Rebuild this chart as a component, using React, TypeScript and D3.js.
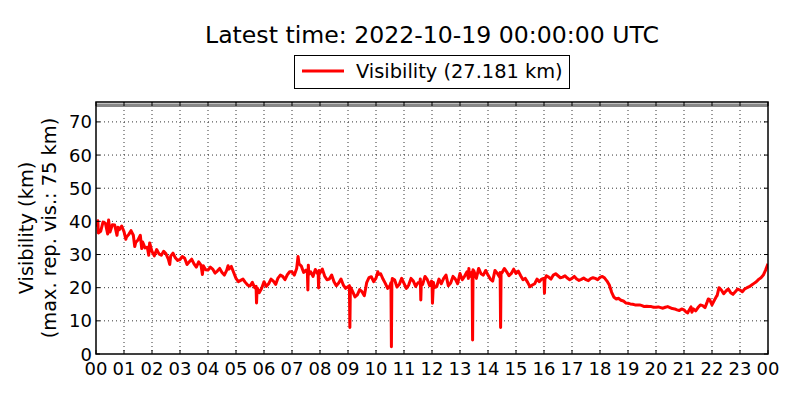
import React from "react";
import * as d3 from "d3";

const TITLE = "Latest time: 2022-10-19 00:00:00 UTC";
const LEGEND_LABEL = "Visibility (27.181 km)";
const Y_LABEL_1 = "Visibility (km)";
const Y_LABEL_2 = "(max. rep. vis.: 75 km)";
const MAX_REP_VIS = 75;

const xTickHours = d3.range(0, 25);
const xTickLabels = xTickHours.map((h) => String(h % 24).padStart(2, "0"));
const yTicks = [0, 10, 20, 30, 40, 50, 60, 70];

// visibility (km) at minute 10*i, 00:00 .. 24:00
const baseValues = [
  38.4, 37.0, 39.5, 36.8, 38.9, 37.5,
  36.9, 36.0, 35.8, 34.4, 33.8, 32.2,
  30.9, 31.5, 29.8, 30.2, 29.5, 29.0,
  28.5, 28.9, 27.8, 27.2, 27.8, 26.6,
  25.3, 25.6, 25.0, 24.6, 25.2, 26.4,
  22.8, 22.2, 21.6, 20.5, 20.0, 18.5,
  21.8, 21.2, 22.0, 22.9, 23.4, 23.9,
  24.8, 25.8, 26.5, 25.3, 24.8, 25.5,
  24.4, 23.5, 22.6, 21.8, 21.4, 20.8,
  20.3, 18.8, 17.8, 18.8, 21.5, 23.3,
  22.9, 24.2, 21.3, 20.6, 22.3, 21.0,
  21.3, 20.8, 22.0, 21.5, 21.0, 22.4,
  21.8, 20.3, 21.2, 23.8, 21.4, 22.6,
  24.3, 23.5, 23.3, 25.0, 25.8, 23.8,
  23.8, 22.0, 24.3, 24.5, 24.8, 24.3,
  24.3, 23.6, 22.8, 20.3, 21.2, 21.8,
  22.8, 23.2, 23.8, 23.6, 23.2, 22.9,
  22.8, 22.6, 22.5, 22.4, 22.7, 22.8,
  23.1, 22.9, 20.8, 17.1, 16.8, 16.0,
  15.3, 15.0, 14.8, 14.6, 14.4, 14.3,
  14.1, 14.0, 14.1, 14.0, 13.6, 13.1,
  13.3, 13.0, 13.6, 14.0, 14.6, 15.8,
  14.8, 17.5, 19.3, 19.0, 18.5, 18.8,
  19.3, 19.6, 20.3, 21.3, 22.5, 23.8,
  27.2,
];

// visibility (km) at minute 10*i + 5
const midValues = [
  36.5, 39.8, 36.2, 39.0, 35.8, 38.6,
  35.2, 37.2, 33.6, 35.8, 32.0, 33.5,
  29.6, 30.2, 31.0, 28.6, 30.4, 28.2,
  29.4, 27.0, 28.6, 26.2, 26.8, 25.4,
  26.2, 24.4, 25.8, 23.8, 25.6, 24.6,
  21.8, 22.6, 20.8, 21.6, 18.8, 19.8,
  20.4, 22.6, 21.0, 23.8, 22.4, 24.8,
  23.8, 27.2, 24.6, 26.8, 23.4, 24.2,
  25.6, 22.4, 23.8, 20.6, 22.6, 19.8,
  19.2, 17.2, 19.4, 17.6, 23.0, 21.8,
  24.0, 22.6, 19.8, 22.8, 20.2, 22.8,
  19.8, 22.8, 20.4, 22.6, 23.4, 20.6,
  20.0, 22.6, 22.8, 20.6, 23.4, 21.2,
  22.4, 24.8, 24.6, 22.8, 24.2, 25.2,
  22.6, 25.2, 23.2, 25.8, 23.6, 25.6,
  25.0, 22.4, 21.6, 20.8, 22.6, 22.6,
  23.6, 22.6, 24.2, 23.0, 23.6, 22.4,
  23.4, 22.2, 22.9, 22.1, 23.0, 22.4,
  23.4, 22.0, 18.6, 16.6, 16.2, 15.4,
  15.1, 14.8, 14.8, 14.3, 14.3, 14.1,
  14.2, 13.8, 14.3, 13.7, 13.3, 13.6,
  12.6, 14.2, 13.0, 14.8, 14.0, 16.4,
  16.2, 20.0, 18.2, 19.6, 18.0, 19.6,
  18.8, 20.0, 20.8, 21.8, 23.0, 25.4,
];

// short excursions: [minute of day, km]
const spikes: [number, number][] = [
  [4, 40.2], [27, 40.4], [47, 38.2], [64, 34.6], [83, 32.4],
  [98, 31.8], [113, 29.8], [158, 27.0], [228, 24.0], [283, 26.6],
  [343, 20.4], [344, 15.4], [346, 19.8],
  [433, 29.4],
  [453, 24.4], [454, 19.3], [456, 24.0],
  [476, 24.8], [477, 19.9], [478, 25.2],
  [543, 20.6], [544, 8.0], [546, 20.0],
  [604, 24.8],
  [632, 21.5], [633, 2.2], [634, 21.8],
  [694, 21.6], [696, 16.3], [697, 21.2],
  [719, 22.0], [721, 15.3], [723, 21.6],
  [798, 22.8], [799, 25.8],
  [806, 23.6], [807, 4.2], [808, 25.4],
  [866, 24.6], [867, 8.0], [868, 24.4],
  [959, 22.8], [961, 18.3], [962, 22.6],
  [1268, 12.4], [1277, 12.6], [1312, 16.6], [1331, 17.6],
];

const W = 800;
const H = 400;
const M = { left: 96, right: 768, top: 102, bottom: 354 };

export default function App() {
  const x = d3.scaleLinear().domain([0, 24 * 60]).range([M.left, M.right]);
  const y = d3.scaleLinear().domain([0, 76]).range([M.bottom, M.top]);

  const points: [number, number][] = baseValues
    .map((v, i) => [i * 10, v] as [number, number])
    .concat(midValues.map((v, i) => [i * 10 + 5, v] as [number, number]))
    .concat(spikes)
    .sort((a, b) => a[0] - b[0]);

  const line = d3
    .line<[number, number]>()
    .x((d) => x(d[0]))
    .y((d) => y(d[1]));

  const font = "DejaVu Sans, sans-serif";
  const tick = 4;
  const cx = (M.left + M.right) / 2;
  const cy = (M.top + M.bottom) / 2;

  return (
    <svg
      width={W}
      height={H}
      style={{ position: "absolute", left: 0, top: 0, background: "#fff" }}
      fontFamily={font}
    >
      <rect x={0} y={0} width={W} height={H} fill="#fff" />
      <text x={cx} y={43} textAnchor="middle" fontSize={23.6} fill="#000">
        {TITLE}
      </text>

      {/* grid */}
      <g stroke="#000" strokeWidth={0.8} strokeDasharray="1,3">
        {xTickHours.slice(1, -1).map((h) => (
          <line key={"gx" + h} x1={x(h * 60)} x2={x(h * 60)} y1={M.top} y2={M.bottom} />
        ))}
        {yTicks.slice(1).map((t) => (
          <line key={"gy" + t} x1={M.left} x2={M.right} y1={y(t)} y2={y(t)} />
        ))}
      </g>

      {/* max reported visibility */}
      <line
        x1={M.left}
        x2={M.right}
        y1={y(MAX_REP_VIS)}
        y2={y(MAX_REP_VIS)}
        stroke="#888"
        strokeWidth={3.5}
      />

      <clipPath id="plotclip">
        <rect x={M.left} y={M.top} width={M.right - M.left} height={M.bottom - M.top} />
      </clipPath>
      <path
        d={line(points) || ""}
        fill="none"
        stroke="#ff0000"
        strokeWidth={3}
        strokeLinejoin="round"
        clipPath="url(#plotclip)"
      />

      {/* ticks */}
      <g stroke="#000" strokeWidth={1}>
        {xTickHours.map((h) => (
          <g key={"tx" + h}>
            <line x1={x(h * 60)} x2={x(h * 60)} y1={M.bottom} y2={M.bottom - tick} />
            <line x1={x(h * 60)} x2={x(h * 60)} y1={M.top} y2={M.top + tick} />
          </g>
        ))}
        {yTicks.map((t) => (
          <g key={"ty" + t}>
            <line x1={M.left} x2={M.left + tick} y1={y(t)} y2={y(t)} />
            <line x1={M.right} x2={M.right - tick} y1={y(t)} y2={y(t)} />
          </g>
        ))}
      </g>

      <rect
        x={M.left}
        y={M.top}
        width={M.right - M.left}
        height={M.bottom - M.top}
        fill="none"
        stroke="#000"
        strokeWidth={1.5}
      />

      {/* tick labels */}
      <g fontSize={18} fill="#000">
        {xTickHours.map((h, i) => (
          <text key={"lx" + h} x={x(h * 60)} y={M.bottom + 21} textAnchor="middle">
            {xTickLabels[i]}
          </text>
        ))}
        {yTicks.map((t) => (
          <text key={"ly" + t} x={M.left - 4} y={y(t) + 6.5} textAnchor="end">
            {t}
          </text>
        ))}
      </g>

      {/* y label */}
      <g fontSize={19.4} fill="#000" textAnchor="middle">
        <text transform={`translate(33,${cy}) rotate(-90)`}>{Y_LABEL_1}</text>
        <text transform={`translate(56,${cy}) rotate(-90)`}>{Y_LABEL_2}</text>
      </g>

      {/* legend */}
      <rect x={294.5} y={55.5} width={275} height={33} fill="#fff" stroke="#000" strokeWidth={1} />
      <line x1={302} x2={344} y1={71} y2={71} stroke="#ff0000" strokeWidth={3} />
      <text x={356} y={78} fontSize={19.4} fill="#000">
        {LEGEND_LABEL}
      </text>
    </svg>
  );
}
